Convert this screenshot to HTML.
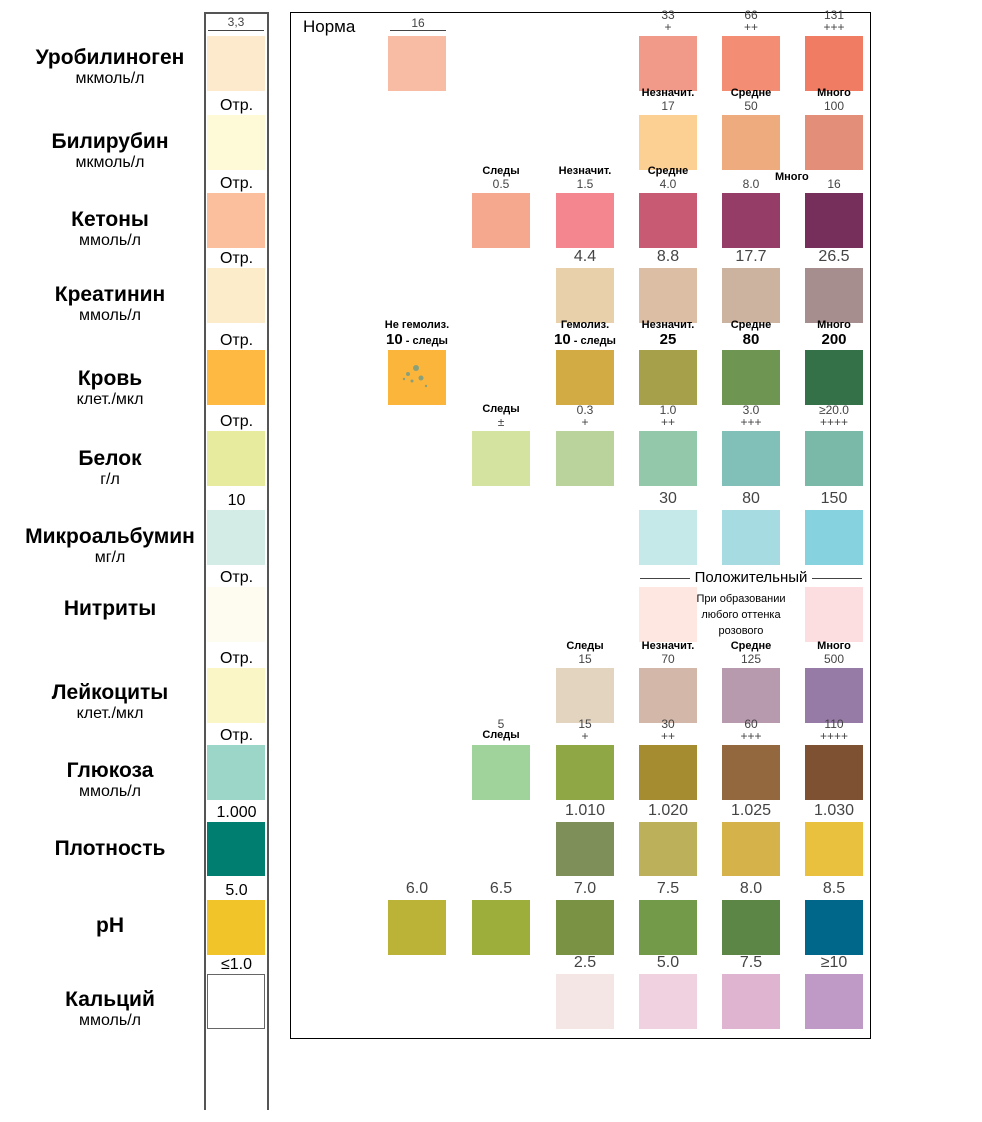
<!DOCTYPE html>
<html><head><meta charset="utf-8">
<style>
body{margin:0;background:#fff;width:982px;height:1122px;position:relative;overflow:hidden;font-family:"Liberation Sans",sans-serif;}
.a{position:absolute}
.sw{position:absolute;width:58px}
.lab{position:absolute;width:90px;text-align:center;display:flex;flex-direction:column;align-items:center;line-height:1.05;color:#444}
.b{font-weight:bold;font-size:11px;color:#000;margin-bottom:1px}
.n{font-size:12px}
.N{font-size:16px}
.B{font-size:15px;font-weight:bold;color:#000}
.name{position:absolute;width:220px;left:0;text-align:center;font-weight:bold;font-size:21px;color:#000}
.unit{position:absolute;width:220px;left:0;text-align:center;font-size:16px;color:#000}
.sl{position:absolute;left:205px;width:63px;text-align:center;font-size:16px;color:#000}
</style></head><body>
<div class="a" style="left:204px;top:12px;width:2px;height:1098px;background:#555"></div>
<div class="a" style="left:267px;top:12px;width:2px;height:1098px;background:#555"></div>
<div class="a" style="left:204px;top:12px;width:65px;height:2px;background:#555"></div>
<div class="a" style="left:206px;top:15px;width:60px;text-align:center;font-size:12px;color:#444">3,3</div>
<div class="a" style="left:208px;top:30px;width:56px;height:1px;background:#444"></div>
<div class="a" style="left:290px;top:12px;width:579px;height:1025px;border:1px solid #000"></div>
<div class="a" style="left:303px;top:17px;font-size:17px">Норма</div>
<div class="a" style="left:390px;top:16px;width:56px;text-align:center;font-size:12px;color:#444">16</div>
<div class="a" style="left:390px;top:30px;width:56px;height:1px;background:#444"></div>
<div class="a" style="left:640px;top:578px;width:222px;height:1px;background:#444"></div>
<div class="a" style="left:690px;top:569px;width:122px;text-align:center;font-size:15px;background:#fff">Положительный</div>
<div class="a" style="left:685px;top:591px;width:112px;text-align:center;font-size:11px;line-height:16px">При образовании любого оттенка розового</div>
<div id="root"></div>
<script>
const colX=[388,472,556,639,722,805];
const rowY=[36,115,193,268,350,431,510,587,668,745,822,900,974];
const names=["Уробилиноген","Билирубин","Кетоны","Креатинин","Кровь","Белок","Микроальбумин","Нитриты","Лейкоциты","Глюкоза","Плотность","pH","Кальций"];
const units=["мкмоль/л","мкмоль/л","ммоль/л","ммоль/л","клет./мкл","г/л","мг/л","","клет./мкл","ммоль/л","","","ммоль/л"];
const nameY=[46,130,208,283,367,447,525,597,681,759,837,914,988];
const stripColors=["#fde9cc","#fefad8","#fcbf9e","#fdecca","#fdb942","#e7eb9d","#d3ece6","#fefcf0","#fbf6c6","#9bd6c8","#007f70","#f1c52a","#ffffff"];
const stripLabels=["","Отр.","Отр.","Отр.","Отр.","Отр.","10","Отр.","Отр.","Отр.","1.000","5.0","≤1.0"];
const swatches=[
[0,0,"#f8bba3",""],
[0,3,"#f29a8a","<span class=n>33</span><span class=n>+</span>"],
[0,4,"#f38d74","<span class=n>66</span><span class=n>++</span>"],
[0,5,"#ef7c63","<span class=n>131</span><span class=n>+++</span>"],
[1,3,"#fccf93","<span class=b>Незначит.</span><span class=n>17</span>"],
[1,4,"#eeab7e","<span class=b>Средне</span><span class=n>50</span>"],
[1,5,"#e28e78","<span class=b>Много</span><span class=n>100</span>"],
[2,1,"#f5a88e","<span class=b>Следы</span><span class=n>0.5</span>"],
[2,2,"#f4868f","<span class=b>Незначит.</span><span class=n>1.5</span>"],
[2,3,"#c85a73","<span class=b>Средне</span><span class=n>4.0</span>"],
[2,4,"#963d67","<span class=n>8.0</span>"],
[2,5,"#762e5a","<span class=n>16</span>"],
[3,2,"#e8d0ab","<span class=N>4.4</span>"],
[3,3,"#dbbea3","<span class=N>8.8</span>"],
[3,4,"#cbb3a0","<span class=N>17.7</span>"],
[3,5,"#a68e8e","<span class=N>26.5</span>"],
[4,0,"#fbb53b","<span class=b>Не гемолиз.</span><span class=B>10<span style='font-size:11px'> - следы</span></span>"],
[4,2,"#d3ab45","<span class=b>Гемолиз.</span><span class=B>10<span style='font-size:11px'> - следы</span></span>"],
[4,3,"#a6a04a","<span class=b>Незначит.</span><span class=B>25</span>"],
[4,4,"#6e9652","<span class=b>Средне</span><span class=B>80</span>"],
[4,5,"#357148","<span class=b>Много</span><span class=B>200</span>"],
[5,1,"#d4e3a0","<span class=b>Следы</span><span class=n>±</span>"],
[5,2,"#bad29b","<span class=n>0.3</span><span class=n>+</span>"],
[5,3,"#93c8ab","<span class=n>1.0</span><span class=n>++</span>"],
[5,4,"#80c0b8","<span class=n>3.0</span><span class=n>+++</span>"],
[5,5,"#7ab9a8","<span class=n>≥20.0</span><span class=n>++++</span>"],
[6,3,"#c5e8e8","<span class=N>30</span>"],
[6,4,"#a6dbe1","<span class=N>80</span>"],
[6,5,"#86d3df","<span class=N>150</span>"],
[7,3,"#fde7e0",""],
[7,5,"#fcdde0",""],
[8,2,"#e3d4c0","<span class=b>Следы</span><span class=n>15</span>"],
[8,3,"#d3b8aa","<span class=b>Незначит.</span><span class=n>70</span>"],
[8,4,"#b89aae","<span class=b>Средне</span><span class=n>125</span>"],
[8,5,"#977ba7","<span class=b>Много</span><span class=n>500</span>"],
[9,1,"#9fd39b","<span class=n>5</span><span class=b>Следы</span>"],
[9,2,"#8fa745","<span class=n>15</span><span class=n>+</span>"],
[9,3,"#a68c30","<span class=n>30</span><span class=n>++</span>"],
[9,4,"#94683f","<span class=n>60</span><span class=n>+++</span>"],
[9,5,"#7d5131","<span class=n>110</span><span class=n>++++</span>"],
[10,2,"#7e8f59","<span class=N>1.010</span>"],
[10,3,"#bdb05a","<span class=N>1.020</span>"],
[10,4,"#d6b34a","<span class=N>1.025</span>"],
[10,5,"#e9c13f","<span class=N>1.030</span>"],
[11,0,"#bbb338","<span class=N>6.0</span>"],
[11,1,"#9daf3a","<span class=N>6.5</span>"],
[11,2,"#799243","<span class=N>7.0</span>"],
[11,3,"#739a48","<span class=N>7.5</span>"],
[11,4,"#5c8645","<span class=N>8.0</span>"],
[11,5,"#00678a","<span class=N>8.5</span>"],
[12,2,"#f5e6e6","<span class=N>2.5</span>"],
[12,3,"#efd1df","<span class=N>5.0</span>"],
[12,4,"#deb4d0","<span class=N>7.5</span>"],
[12,5,"#c09ac6","<span class=N>≥10</span>"]
];
const root=document.getElementById('root');
const H=i=>i===10?54:55;
names.forEach((nm,i)=>{
  const d=document.createElement('div');d.className='name';d.style.top=nameY[i]+'px';d.textContent=nm;
  
  
  root.appendChild(d);
  if(units[i]){const u=document.createElement('div');u.className='unit';u.style.top=(nameY[i]+24)+'px';u.textContent=units[i];
  
  
  root.appendChild(u);}
  const s=document.createElement('div');s.className='sw';s.style.left='207px';s.style.top=rowY[i]+'px';s.style.height=H(i)+'px';s.style.background=stripColors[i];
  if(i===12){s.style.boxSizing='border-box';s.style.border='1px solid #666';}
  
  
  root.appendChild(s);
  if(stripLabels[i]){const l=document.createElement('div');l.className='sl';l.style.top=(rowY[i]-18)+'px';l.textContent=stripLabels[i];
  
  
  root.appendChild(l);}
});
swatches.forEach(w=>{
  const [r,c,col,lab]=w;const x=colX[c],y=rowY[r];
  const s=document.createElement('div');s.className='sw';s.style.left=x+'px';s.style.top=y+'px';s.style.height=H(r)+'px';s.style.background=col;
  if(r===4&&c===0){s.innerHTML="<svg width='58' height='55'><g fill='#8aa07a'><circle cx='20' cy='24' r='2'/><circle cx='28' cy='18' r='3'/><circle cx='33' cy='28' r='2.5'/><circle cx='24' cy='31' r='1.5'/><circle cx='16' cy='29' r='1.2'/><circle cx='38' cy='36' r='1.2'/></g></svg>";}
  
  
  root.appendChild(s);
  if(lab){const l=document.createElement('div');l.className='lab';l.style.left=(x-16)+'px';l.style.bottom=(1122-y+2)+'px';l.innerHTML=lab;
  
  
  root.appendChild(l);}
});
const m=document.createElement('div');m.className='a b';m.style.left='775px';m.style.top='171px';m.textContent='Много';


root.appendChild(m);
</script>
</body></html>
